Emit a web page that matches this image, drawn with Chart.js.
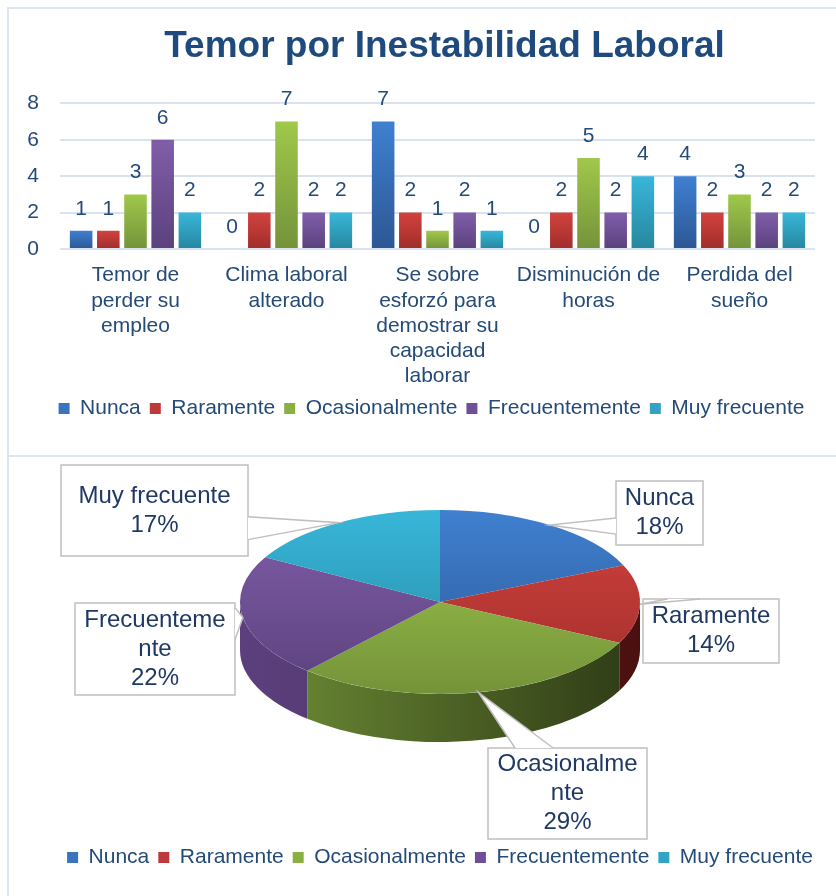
<!DOCTYPE html>
<html>
<head>
<meta charset="utf-8">
<script src="https://cdn.jsdelivr.net/npm/chart.js@4.4.1/dist/chart.umd.min.js"></script>
<style>
  body { margin: 0; background: #fff; width: 836px; height: 896px; position: relative; overflow: hidden; }
  .line { position: absolute; background: #dce6f2; }
  #barChart { position: absolute; left: 8px; top: 10px; }
  #pieChart { position: absolute; left: 8px; top: 460px; }
</style>
</head>
<body>
<div class="line" style="left:7px; top:7px; width:829px; height:2px;"></div>
<div class="line" style="left:7px; top:7px; width:2px; height:889px;"></div>
<div class="line" style="left:7px; top:455px; width:829px; height:2px;"></div>
<canvas id="barChart" width="828" height="440"></canvas>
<canvas id="pieChart" width="828" height="436"></canvas>
<script>
// datos
const categories = [
    ['Temor de', 'perder su', 'empleo'],
    ['Clima laboral', 'alterado'],
    ['Se sobre', 'esforzó para', 'demostrar su', 'capacidad', 'laborar'],
    ['Disminución de', 'horas'],
    ['Perdida del', 'sueño']
];
const seriesNames = ['Nunca', 'Raramente', 'Ocasionalmente', 'Frecuentemente', 'Muy frecuente'];
const nunca = [1, 0, 7, 0, 4];
const raramente = [1, 2, 2, 2, 2];
const ocasionalmente = [3, 7, 1, 5, 3];
const frecuentemente = [6, 2, 2, 2, 2];
const muyFrecuente = [2, 2, 1, 4, 2];
const yTicks = [0, 2, 4, 6, 8];

// totales por respuesta (grafico circular)
const pieValues = [12, 9, 19, 14, 11];
const pieLabelLines = [['Nunca'], ['Raramente'], ['Ocasionalme', 'nte'], ['Frecuenteme', 'nte'], ['Muy frecuente']];

// estilos
const family = '"Liberation Sans", Arial, sans-serif';
const textColor = '#244a78';
const topColors = ['#3f80d0', '#d2423e', '#a0c84b', '#805ea9', '#38b6d9'];
const bottomColors = ['#2c5794', '#a02e2b', '#74933a', '#5b417d', '#26879f'];
const legendColors = ['#3a73be', '#c0393a', '#8ab042', '#6f4f98', '#31a4c5'];
const sideLight = ['#2a528a', '#8a2522', '#6f8f36', '#5c407e', '#247c92'];
const sideDark = ['#1b375e', '#4a1010', '#2e3a16', '#3c2954', '#164f5e'];

const pieRadius = 200;
const pieTilt = 0.46;
const pieDepth = 48;

// cajas de etiquetas del circulo (coordenadas del canvas)
const calloutBoxes = [
    { x: 608, y: 21, w: 87, h: 64, side: 'left', f: [0.58, 0.83] },
    { x: 635, y: 139, w: 136, h: 64, side: 'top', f: [0.18, 0.42] },
    { x: 480, y: 288, w: 159, h: 91, side: 'top', f: [0.17, 0.41] },
    { x: 67, y: 143, w: 160, h: 92, side: 'right', f: [0.05, 0.4] },
    { x: 53, y: 5, w: 187, h: 91, side: 'right', f: [0.57, 0.82] }
];

function barGradient(i) {
    return function(context) {
        const chart = context.chart;
        if (!chart.chartArea || context.type !== 'data') return legendColors[i];
        const ys = chart.scales.y;
        const top = ys.getPixelForValue(context.raw);
        const base = ys.getPixelForValue(0);
        if (base - top < 1) return legendColors[i];
        const g = chart.ctx.createLinearGradient(0, top, 0, base);
        g.addColorStop(0, topColors[i]);
        g.addColorStop(1, bottomColors[i]);
        return g;
    };
}

const barValueLabels = {
    id: 'barValueLabels',
    afterDatasetsDraw(chart) {
        const ctx = chart.ctx;
        ctx.save();
        ctx.font = '21px ' + family;
        ctx.fillStyle = textColor;
        ctx.textAlign = 'center';
        ctx.textBaseline = 'middle';
        chart.data.datasets.forEach((ds, i) => {
            chart.getDatasetMeta(i).data.forEach((bar, j) => {
                ctx.fillText(String(ds.data[j]), bar.x, bar.y - 22);
            });
        });
        ctx.restore();
    }
};

// centra titulo y leyenda como en la imagen
const shiftBoxes = {
    id: 'shiftBoxes',
    afterLayout(chart) {
        if (chart.titleBlock) {
            chart.titleBlock.left += 33;
            chart.titleBlock.right += 33;
        }
        chart.legend.left += 20;
        chart.legend.right += 20;
    }
};

function legendOptions() {
    return {
        position: 'bottom',
        labels: {
            boxWidth: 11,
            boxHeight: 11,
            padding: 9,
            color: textColor,
            font: { size: 21, family: family },
            generateLabels: () => seriesNames.map((n, i) => ({
                text: n, fillStyle: legendColors[i], strokeStyle: legendColors[i],
                lineWidth: 0, hidden: false, datasetIndex: i, index: i, fontColor: textColor
            }))
        }
    };
}

const seriesData = [nunca, raramente, ocasionalmente, frecuentemente, muyFrecuente];

new Chart(document.getElementById('barChart'), {
    type: 'bar',
    data: {
        labels: categories,
        datasets: seriesNames.map((name, i) => ({
            label: name,
            data: seriesData[i],
            backgroundColor: barGradient(i),
            categoryPercentage: 0.9,
            barPercentage: 0.83
        }))
    },
    options: {
        responsive: false,
        animation: false,
        layout: { padding: { left: 0, right: 21, top: 0, bottom: 21 } },
        plugins: {
            title: {
                display: true,
                text: 'Temor por Inestabilidad Laboral',
                color: '#1f4a7e',
                font: { size: 37, weight: 'bold', family: family },
                padding: { top: 15, bottom: 34 }
            },
            legend: legendOptions(),
            tooltip: { enabled: false }
        },
        scales: {
            x: {
                grid: { display: false },
                border: { display: false },
                ticks: {
                    color: textColor,
                    font: { size: 21, family: family, lineHeight: 1.2 },
                    padding: 6,
                    maxRotation: 0,
                    autoSkip: false
                },
                afterFit: s => { s.height = 140; }
            },
            y: {
                min: 0,
                max: 8,
                grid: { color: '#d9e3f0', lineWidth: 2, drawTicks: false },
                border: { display: false },
                ticks: { color: textColor, font: { size: 21, family: family }, padding: 21 },
                afterBuildTicks: s => { s.ticks = yTicks.map(v => ({ value: v })); },
                afterFit: s => { s.width = 52; }
            }
        }
    },
    plugins: [barValueLabels, shiftBoxes]
});

// grafico circular con efecto 3D
function pieFill(context) {
    const i = context.dataIndex;
    const chart = context.chart;
    const area = chart.chartArea;
    if (!area || context.type !== 'data') return legendColors[i];
    const cy = (area.top + area.bottom) / 2;
    const g = chart.ctx.createLinearGradient(0, cy - pieRadius, 0, cy + pieRadius);
    g.addColorStop(0, topColors[i]);
    g.addColorStop(1, bottomColors[i]);
    return g;
}

function pieCenterY(chart) {
    return chart.chartArea.top + pieRadius * pieTilt;
}

const pie3d = {
    id: 'pie3d',
    beforeDatasetsDraw(chart) {
        const ctx = chart.ctx;
        const arcs = chart.getDatasetMeta(0).data;
        const cx = arcs[0].x, cy = arcs[0].y;
        ctx.save();
        ctx.translate(cx, pieCenterY(chart));
        ctx.scale(1, pieTilt);
        ctx.translate(-cx, -cy);
        const d = pieDepth / pieTilt;
        arcs.forEach((arc, i) => {
            const a0 = Math.max(arc.startAngle, 0);
            const a1 = Math.min(arc.endAngle, Math.PI);
            if (a1 <= a0) return;
            const r = arc.outerRadius;
            const g = ctx.createLinearGradient(cx - r, 0, cx + r, 0);
            g.addColorStop(0, sideLight[i]);
            g.addColorStop(1, sideDark[i]);
            ctx.beginPath();
            ctx.arc(cx, cy, r, a0, a1);
            ctx.lineTo(cx + r * Math.cos(a1), cy + d + r * Math.sin(a1));
            ctx.arc(cx, cy + d, r, a1, a0, true);
            ctx.closePath();
            ctx.fillStyle = g;
            ctx.fill();
        });
    },
    afterDatasetsDraw(chart) {
        chart.ctx.restore();
    },
    afterDraw(chart) {
        const ctx = chart.ctx;
        const arcs = chart.getDatasetMeta(0).data;
        const ty = pieCenterY(chart);
        const total = pieValues.reduce((a, b) => a + b, 0);
        ctx.save();
        arcs.forEach((arc, i) => {
            const b = calloutBoxes[i];
            const mid = (arc.startAngle + arc.endAngle) / 2;
            const tx = arc.x + arc.outerRadius * Math.cos(mid);
            const tyy = ty + arc.outerRadius * Math.sin(mid) * pieTilt;
            let p1, p2;
            if (b.side === 'left') {
                p1 = [b.x, b.y + b.f[0] * b.h]; p2 = [b.x, b.y + b.f[1] * b.h];
            } else if (b.side === 'right') {
                p1 = [b.x + b.w, b.y + b.f[0] * b.h]; p2 = [b.x + b.w, b.y + b.f[1] * b.h];
            } else {
                p1 = [b.x + b.f[0] * b.w, b.y]; p2 = [b.x + b.f[1] * b.w, b.y];
            }
            ctx.fillStyle = '#fff';
            ctx.strokeStyle = '#bfbfbf';
            ctx.lineWidth = 1.5;
            ctx.fillRect(b.x, b.y, b.w, b.h);
            ctx.strokeRect(b.x, b.y, b.w, b.h);
            ctx.beginPath();
            ctx.moveTo(p1[0], p1[1]);
            ctx.lineTo(tx, tyy);
            ctx.lineTo(p2[0], p2[1]);
            ctx.closePath();
            ctx.fill();
            ctx.beginPath();
            ctx.moveTo(p1[0], p1[1]);
            ctx.lineTo(tx, tyy);
            ctx.lineTo(p2[0], p2[1]);
            ctx.stroke();

            const lines = pieLabelLines[i].concat([Math.round(pieValues[i] / total * 100) + '%']);
            ctx.fillStyle = '#1f3864';
            ctx.font = '24px ' + family;
            ctx.textAlign = 'center';
            ctx.textBaseline = 'middle';
            const lh = 29;
            const y0 = b.y + b.h / 2 - (lines.length - 1) * lh / 2;
            lines.forEach((t, k) => ctx.fillText(t, b.x + b.w / 2, y0 + k * lh));
        });
        ctx.restore();
    }
};

new Chart(document.getElementById('pieChart'), {
    type: 'pie',
    data: {
        labels: seriesNames,
        datasets: [{
            data: pieValues,
            backgroundColor: pieFill,
            borderWidth: 0,
            clip: false
        }]
    },
    options: {
        responsive: false,
        animation: false,
        radius: pieRadius,
        layout: { padding: { left: 36, right: 0, top: 50, bottom: 18 } },
        plugins: {
            legend: legendOptions(),
            tooltip: { enabled: false }
        }
    },
    plugins: [pie3d]
});
</script>
</body>
</html>
